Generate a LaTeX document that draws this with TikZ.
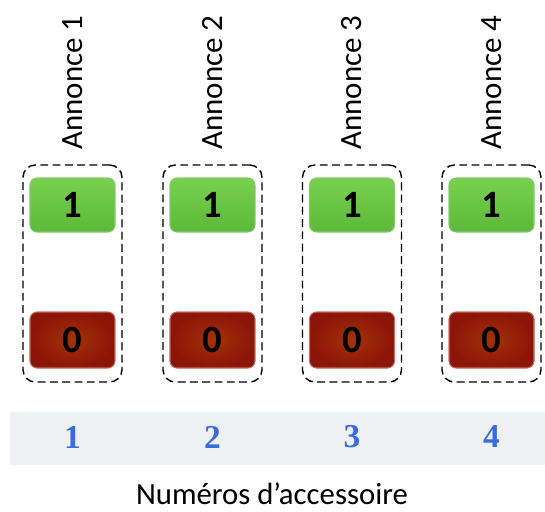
\documentclass[tikz,border=0pt]{standalone}
\usepackage{fontspec}
\setmainfont{Carlito}
\newfontfamily\numfont{Liberation Serif}
\usepackage{xcolor}
\usepackage{tikz}
\definecolor{onTop}{HTML}{78D04E}
\definecolor{onBottom}{HTML}{5DB93A}
\definecolor{onBorder}{HTML}{86C870}
\definecolor{offInner}{HTML}{A33208}
\definecolor{offOuter}{HTML}{8C1408}
\definecolor{offBorder}{HTML}{C07060}
\definecolor{bandGray}{HTML}{EEF0F3}
\definecolor{accBlue}{HTML}{3A6BE0}
\tikzset{
  style on/.style={
    rounded corners=4pt,
    top color=onTop, bottom color=onBottom,
    draw=onBorder, line width=0.6pt,
    minimum width=1.7cm, minimum height=1.08cm,
    font=\fontsize{22}{22}\selectfont\bfseries
  },
  style off/.style={
    rounded corners=4pt,
    inner color=offInner, outer color=offOuter,
    draw=offBorder, line width=0.6pt,
    minimum width=1.7cm, minimum height=1.12cm,
    font=\fontsize{22}{22}\selectfont\bfseries
  },
  group/.style={
    draw, line width=0.8pt, dash pattern=on 4.5pt off 2.5pt,
    rounded corners=7pt,
    minimum width=1.98cm, minimum height=4.34cm
  },
  annonce/.style={
    rotate=90, anchor=west, inner sep=0pt,
    font=\fontsize{17.6}{18}\selectfont
  },
  accnum/.style={
    text=accBlue, font=\numfont\fontsize{19}{19}\selectfont\bfseries
  }
}
\begin{document}
\begin{tikzpicture}
        \useasboundingbox (0,0) rectangle (10.9,-10.24);
        % bande des numeros
        \fill[bandGray] (0.2,-8.24) rectangle (10.9,-9.30);

        \begin{scope}[every node/.style={group}]
            \node (G1) at (1.45, -5.47) {};
            \node (G2) at (4.25, -5.47) {};
            \node (G3) at (7.04, -5.47) {};
            \node (G4) at (9.83, -5.47) {};
        \end{scope}
        \begin{scope}[every node/.style={annonce}]
            \node (L1) at (1.45, -3.0) {Annonce 1};
            \node (L2) at (4.25, -3.0) {Annonce 2};
            \node (L3) at (7.04, -3.0) {Annonce 3};
            \node (L4) at (9.83, -3.0) {Annonce 4};
        \end{scope}
        \begin{scope}[every node/.style={style on}]
            \node (A1) at (1.45, -4.10) {1};
            \node (A2) at (4.25, -4.10) {1};
            \node (A3) at (7.04, -4.10) {1};
            \node (A4) at (9.83, -4.10) {1};
        \end{scope}
        \begin{scope}[every node/.style={style off}]
            \node (B1) at (1.45, -6.80) {0};
            \node (B2) at (4.25, -6.80) {0};
            \node (B3) at (7.04, -6.80) {0};
            \node (B4) at (9.83, -6.80) {0};
        \end{scope}
        \begin{scope}[every node/.style={accnum}]
            \node (N1) at (1.45, -8.74) {1};
            \node (N2) at (4.25, -8.74) {2};
            \node (N3) at (7.04, -8.74) {3};
            \node (N4) at (9.83, -8.74) {4};
        \end{scope}
        \node[font=\fontsize{17.5}{18}\selectfont] (T) at (5.44, -9.88) {Numéros d’accessoire};
\end{tikzpicture}
\end{document}
